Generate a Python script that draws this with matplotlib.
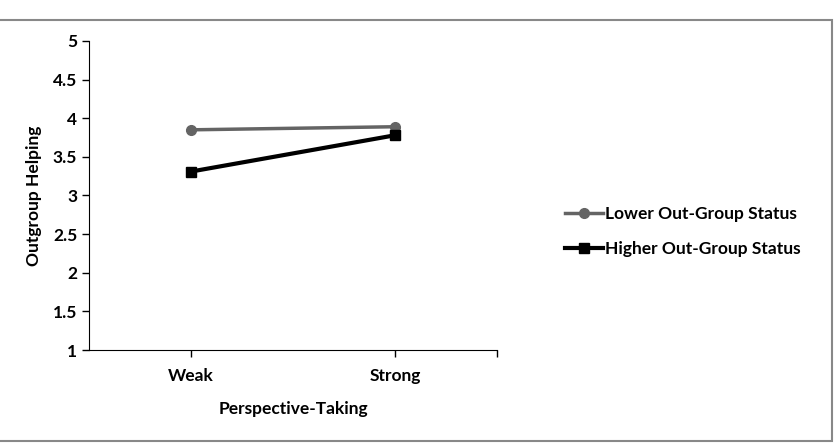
import matplotlib.pyplot as plt
from matplotlib.patches import Rectangle

categories = ['Weak', 'Strong']
lower_status = [3.85, 3.89]
higher_status = [3.31, 3.78]
y_ticks = [1, 1.5, 2, 2.5, 3, 3.5, 4, 4.5, 5]
y_labels = ['1', '1.5', '2', '2.5', '3', '3.5', '4', '4.5', '5']

plt.rcParams['font.family'] = ['Lato', 'DejaVu Sans']
plt.rcParams['font.weight'] = 'bold'
fs = 12.5

fig = plt.figure(figsize=(8.4, 4.44), dpi=100)
ax = fig.add_axes([0.106, 0.2117, 0.486, 0.696])

x = [0.5, 1.5]
ax.plot(x, lower_status, color='#646464', lw=2.5, marker='o', ms=7,
        label='Lower Out-Group Status')
ax.plot(x, higher_status, color='black', lw=3, marker='s', ms=7,
        label='Higher Out-Group Status')

ax.set_xlim(0, 2)
ax.set_ylim(1, 5)
ax.set_yticks(y_ticks)
ax.set_yticklabels(y_labels, fontsize=fs, fontweight='bold')
ax.set_xticks([0.5, 1.5, 2.0])
ax.set_xticklabels(categories + [''], fontsize=fs, fontweight='bold')
ax.tick_params(axis='both', length=5, width=1, color='black')
ax.tick_params(axis='x', pad=8)
ax.spines['top'].set_visible(False)
ax.spines['right'].set_visible(False)
ax.set_xlabel('Perspective-Taking', fontsize=fs, fontweight='bold', labelpad=12)
ax.set_ylabel('Outgroup Helping', fontsize=fs, fontweight='bold', labelpad=8)

fig.legend(loc='center left', bbox_to_anchor=(0.654, 0.478), frameon=False,
           handlelength=2.2, handletextpad=0.1, labelspacing=1.1,
           prop={'weight': 'bold', 'size': fs})

fig.patches.append(Rectangle((-0.01, 0.0068), 1.0005, 0.949, transform=fig.transFigure,
                             fill=False, edgecolor='#888888', lw=1.5))

fig.savefig('out.png', dpi=100)
